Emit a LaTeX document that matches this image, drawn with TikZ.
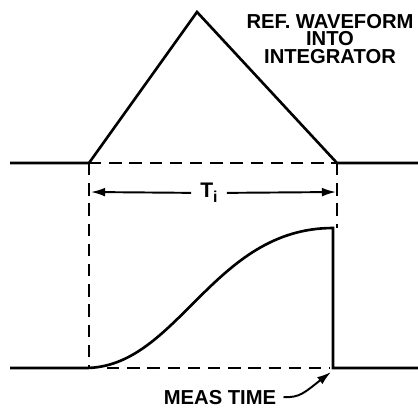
\documentclass[tikz,border=0pt]{standalone}
\usepackage{fontspec}
\setmainfont{Liberation Sans}
\usetikzlibrary{arrows.meta}

\begin{document}
\begin{tikzpicture}[x=0.02cm, y=-0.02cm,
    wave/.style={line width=1.5pt, line join=miter},
    guide/.style={line width=1.1pt, dash pattern=on 7pt off 4.5pt},
    dimline/.style={line width=1.1pt, -{Latex[length=8pt,width=5pt]}},
    pointer/.style={line width=1.1pt, -{Latex[length=8pt,width=5pt]}},
    caption/.style={font=\bfseries\fontsize{11.5}{10.2}\selectfont,
                    align=center, inner sep=0pt}
  ]
    \useasboundingbox (0,0) rectangle (418,407);

    % reference ramp
    \coordinate (tl)   at (10,163);
    \coordinate (ta)   at (89,163);
    \coordinate (apex) at (197,12);
    \coordinate (tb)   at (337,163);
    \coordinate (tr)   at (418,163);

    % integrator output
    \coordinate (bl)   at (10,368);
    \coordinate (ba)   at (85,368);
    \coordinate (peak) at (333,228);
    \coordinate (bb)   at (333,368);
    \coordinate (br)   at (418,368);

    \draw[wave] (tl) -- (ta) -- (apex) -- (tb) -- (tr);
    \draw[wave] (bl) -- (ba) .. controls (178,368) and (212,228) .. (peak)
                -- (bb) -- (br);

    % guide lines
    \draw[guide] (ta) -- (tb);
    \draw[guide] (ta) -- (89,367);
    \draw[guide] (tb) -- (337,228);
    \draw[guide] (107,368) -- (330,368);

    % integration time
    \coordinate (lt) at (91,192);
    \coordinate (rt) at (336,192);
    \node[font=\bfseries\fontsize{12}{12}\selectfont, inner xsep=5pt]
      (ti) at (209,193) {T\raisebox{-0.45ex}{\fontsize{9}{9}\selectfont i}};
    \draw[dimline] (ti) -- (lt);
    \draw[dimline] (ti) -- (rt);

    \node[caption] (ref) at (330,39) {REF. WAVEFORM\\INTO\\INTEGRATOR};

    \node[caption, anchor=base] (meas) at (220,404) {MEAS TIME};
    \coordinate (mt) at (331,372);
    \draw[pointer] ([xshift=4pt]meas.east) .. controls (300,398) and (305,392) .. (mt);
  \end{tikzpicture}
\end{document}
